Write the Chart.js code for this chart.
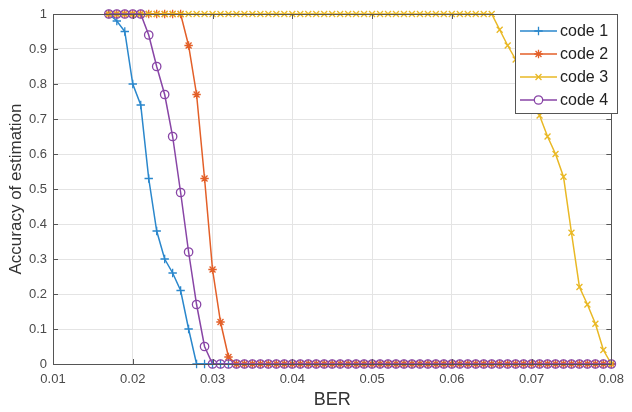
<!DOCTYPE html>
<html><head><meta charset="utf-8">
<script src="https://cdn.jsdelivr.net/npm/chart.js@4.4.1/dist/chart.umd.min.js"></script>
<style>html,body{margin:0;padding:0;background:#fff}#wrap{width:632px;height:412px}</style>
</head><body><div id="wrap"><canvas id="c" width="632" height="412"></canvas></div>
<script>
const ber = [0.017,0.018,0.019,0.020,0.021,0.022,0.023,0.024,0.025,0.026,0.027,0.028,0.029,0.030,0.031,0.032,
  0.033,0.034,0.035,0.036,0.037,0.038,0.039,0.040,0.041,0.042,0.043,0.044,0.045,0.046,0.047,0.048,
  0.049,0.050,0.051,0.052,0.053,0.054,0.055,0.056,0.057,0.058,0.059,0.060,0.061,0.062,0.063,0.064,
  0.065,0.066,0.067,0.068,0.069,0.070,0.071,0.072,0.073,0.074,0.075,0.076,0.077,0.078,0.079,0.080];
const code1 = [1,0.98,0.95,0.80,0.74,0.53,0.38,0.30,0.26,0.21,0.10,0,0,0,0,0,
  0,0,0,0,0,0,0,0,0,0,0,0,0,0,0,0,
  0,0,0,0,0,0,0,0,0,0,0,0,0,0,0,0,
  0,0,0,0,0,0,0,0,0,0,0,0,0,0,0,0];
const code2 = [1,1,1,1,1,1,1,1,1,1,0.91,0.77,0.53,0.27,0.12,0.02,
  0,0,0,0,0,0,0,0,0,0,0,0,0,0,0,0,
  0,0,0,0,0,0,0,0,0,0,0,0,0,0,0,0,
  0,0,0,0,0,0,0,0,0,0,0,0,0,0,0,0];
const code3 = [1,1,1,1,1,1,1,1,1,1,1,1,1,1,1,1,
  1,1,1,1,1,1,1,1,1,1,1,1,1,1,1,1,
  1,1,1,1,1,1,1,1,1,1,1,1,1,1,1,1,
  1,0.955,0.91,0.87,0.82,0.77,0.71,0.65,0.60,0.535,0.375,0.22,0.17,0.115,0.04,0];
const code4 = [1,1,1,1,1,0.94,0.85,0.77,0.65,0.49,0.32,0.17,0.05,0,0,0,
  0,0,0,0,0,0,0,0,0,0,0,0,0,0,0,0,
  0,0,0,0,0,0,0,0,0,0,0,0,0,0,0,0,
  0,0,0,0,0,0,0,0,0,0,0,0,0,0,0,0];
const seriesNames = ['code 1','code 2','code 3','code 4'];
const xTicks = [0.01,0.02,0.03,0.04,0.05,0.06,0.07,0.08];
const yTicks = [0,0.1,0.2,0.3,0.4,0.5,0.6,0.7,0.8,0.9,1];
const xTitle = 'BER';
const yTitle = 'Accuracy of estimation';

const colors = ['#2a87cc','#e35f28','#e9b824','#8845a6'];
const styles = ['cross','star','crossRot','circle'];
const allSeries = [code1, code2, code3, code4];

const datasets = allSeries.map((s, i) => ({
  label: seriesNames[i],
  data: s.map((v, k) => ({x: ber[k], y: v})),
  borderColor: colors[i],
  backgroundColor: colors[i],
  borderWidth: 1.5,
  pointStyle: styles[i],
  pointRadius: 4.2,
  pointBorderColor: colors[i],
  pointBackgroundColor: 'rgba(0,0,0,0)',
  pointBorderWidth: 1.3,
  tension: 0,
  clip: false,
  order: 4 - i
}));

const axisColor = '#555555';
const textColor = '#4a4a4a';

const matlabBox = {
  id: 'matlabBox',
  afterDatasetsDraw(chart) {
    const ctx = chart.ctx;
    const a = chart.chartArea;
    const xs = chart.scales.x, ys = chart.scales.y;
    ctx.save();
    ctx.strokeStyle = axisColor;
    ctx.lineWidth = 1;
    ctx.beginPath();
    ctx.rect(Math.round(a.left) + 0.5, Math.round(a.top) + 0.5, Math.round(a.right - a.left), Math.round(a.bottom - a.top));
    ctx.stroke();
    const tl = 5;
    ctx.beginPath();
    xTicks.forEach(v => {
      const px = Math.round(xs.getPixelForValue(v)) + 0.5;
      ctx.moveTo(px, a.bottom); ctx.lineTo(px, a.bottom - tl);
      ctx.moveTo(px, a.top); ctx.lineTo(px, a.top + tl);
    });
    yTicks.forEach(v => {
      const py = Math.round(ys.getPixelForValue(v)) + 0.5;
      ctx.moveTo(a.left, py); ctx.lineTo(a.left + tl, py);
      ctx.moveTo(a.right, py); ctx.lineTo(a.right - tl, py);
    });
    ctx.stroke();

    // legend
    const lx = 515, ly = 14, lw = 102, lh = 99;
    ctx.fillStyle = '#ffffff';
    ctx.fillRect(lx, ly, lw, lh);
    ctx.strokeStyle = axisColor;
    ctx.strokeRect(lx + 0.5, ly + 0.5, lw, lh);
    ctx.font = '16px "Liberation Sans", Arial, sans-serif';
    ctx.textBaseline = 'middle';
    ctx.textAlign = 'left';
    seriesNames.forEach((name, i) => {
      const y = ly + 17 + i * 23;
      ctx.strokeStyle = colors[i];
      ctx.lineWidth = 1.5;
      ctx.beginPath();
      ctx.moveTo(lx + 5, y); ctx.lineTo(lx + 42, y);
      ctx.stroke();
      ctx.lineWidth = 1.3;
      ctx.fillStyle = '#ffffff';
      Chart.helpers.drawPoint(ctx, {pointStyle: styles[i], radius: 4.2, borderWidth: 1.3, rotation: 0}, lx + 23.5, y);
      ctx.fillStyle = '#222222';
      ctx.fillText(name, lx + 45, y + 1);
    });
    ctx.restore();
  }
};

new Chart(document.getElementById('c'), {
  type: 'line',
  data: { datasets },
  options: {
    responsive: false,
    devicePixelRatio: 1,
    animation: false,
    events: [],
    layout: { padding: { top: 14, right: 15, left: 0, bottom: 0 } },
    plugins: { legend: { display: false }, tooltip: { enabled: false } },
    scales: {
      x: {
        type: 'linear',
        min: 0.01, max: 0.08,
        afterBuildTicks: s => { s.ticks = xTicks.map(v => ({value: v})); },
        afterFit: s => { s.height = 48; },
        ticks: { callback: v => String(v), color: textColor, font: { family: '"Liberation Sans", Arial, sans-serif', size: 13 }, padding: 8, maxRotation: 0, autoSkip: false },
        grid: { color: '#e4e4e4', drawTicks: false, lineWidth: 1 },
        border: { display: false },
        title: { display: true, text: xTitle, color: '#333333', font: { family: '"Liberation Sans", Arial, sans-serif', size: 18 }, padding: { top: 0, bottom: 1 } }
      },
      y: {
        type: 'linear',
        min: 0, max: 1,
        afterBuildTicks: s => { s.ticks = yTicks.map(v => ({value: v})); },
        afterFit: s => { s.width = 53; },
        ticks: { callback: v => String(v), color: textColor, font: { family: '"Liberation Sans", Arial, sans-serif', size: 13 }, padding: 6, autoSkip: false },
        grid: { color: '#e4e4e4', drawTicks: false, lineWidth: 1 },
        border: { display: false },
        title: { display: true, text: yTitle, color: '#333333', font: { family: '"Liberation Sans", Arial, sans-serif', size: 17 }, padding: { top: 6, bottom: 0 } }
      }
    }
  },
  plugins: [matlabBox]
});
</script></body></html>
